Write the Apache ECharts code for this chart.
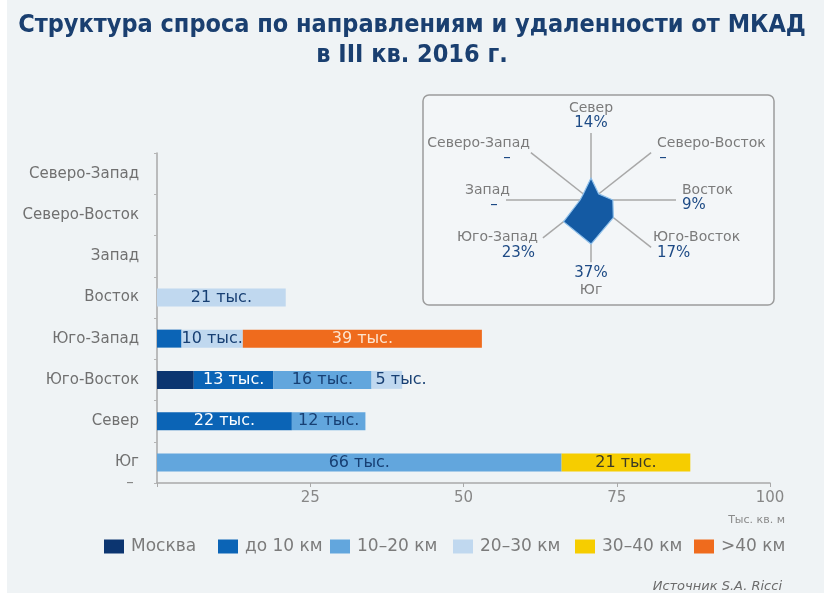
<!DOCTYPE html>
<html>
<head>
<meta charset="utf-8">
<script src="https://cdn.jsdelivr.net/npm/echarts@6/dist/echarts.min.js"></script>
<style>
  html, body { margin: 0; padding: 0; background: #ffffff; }
  #chart { width: 824px; height: 593px; }
</style>
</head>
<body>
<div id="chart"></div>
<script>
// Directions along the vertical axis (bottom to top)
const directions = ['Юг', 'Север', 'Юго-Восток', 'Юго-Запад', 'Восток', 'Запад', 'Северо-Восток', 'Северо-Запад'];

// Distance bands from the ring road
const bandNames = ['Москва', 'до 10 км', '10–20 км', '20–30 км', '30–40 км', '>40 км'];

// Demand, thousand sq. m, per direction (same order as directions)
const moscow   = [null, null, 6,    null, null, null, null, null];
const upTo10   = [null, 22,   13,   4,    null, null, null, null];
const km10to20 = [66,   12,   16,   null, null, null, null, null];
const km20to30 = [null, null, 5,    10,   21,   null, null, null];
const km30to40 = [21,   null, null, null, null, null, null, null];
const over40   = [null, null, null, 39,   null, null, null, null];

// Horizontal scale
const xMin = 0;
const xMax = 100;
const xStep = 25;

// Inset: share of demand by compass direction, % (null = no demand)
const compassNames = ['Север', 'Северо-Восток', 'Восток', 'Юго-Восток', 'Юг', 'Юго-Запад', 'Запад', 'Северо-Запад'];
const compassShare = [14, null, 9, 17, 37, 23, null, null];
const compassMin = -9;   // radial scale start (keeps a small core at zero)
const compassMax = 61;

// ---- styling ----
const bandValues = [moscow, upTo10, km10to20, km20to30, km30to40, over40];
const bandColors = ['#0c3570', '#0b64b6', '#62a6dd', '#c0d8ef', '#f6cd00', '#ef6b1d'];
const bandLabelColors = ['#ffffff', '#ffffff', '#173f73', '#173f73', '#3b3a26', '#fde4cf'];
const FONT = "'DejaVu Sans', sans-serif";
const TITLE_FONT = "'Liberation Sans Narrow', 'DejaVu Sans Condensed', sans-serif";
const legendLefts = [104, 218, 330, 453, 575, 694];

// label placement around the inset (pixel offsets from its centre)
const compassLayout = [
  { name: [0, -92],  val: [0, -77],  align: 'center' },
  { name: [66, -57], val: [72, -42], align: 'left' },
  { name: [91, -10], val: [91, 5],   align: 'left' },
  { name: [62, 37],  val: [66, 53],  align: 'left' },
  { name: [0, 90],   val: [0, 73],   align: 'center' },
  { name: [-53, 37], val: [-56, 53], align: 'right' },
  { name: [-81, -10], val: [-97, 5], align: 'right' },
  { name: [-61, -57], val: [-84, -42], align: 'right' }
];
const spokeLength = [1, 1, 1, 1, 0.93, 0.8, 1, 1];

const chart = echarts.init(document.getElementById('chart'), null, { renderer: 'canvas' });

function unit(k) {
  const a = k * Math.PI / 4;
  return [Math.sin(a), Math.cos(a)];
}
function radial(v) {
  return ((v == null ? 0 : v) - compassMin) / (compassMax - compassMin);
}

const barSeries = bandNames.map((name, si) => ({
  type: 'bar',
  name: name,
  stack: 'total',
  barWidth: 18,
  xAxisIndex: 0,
  yAxisIndex: 0,
  itemStyle: { color: bandColors[si] },
  label: {
    show: si !== 0,
    position: 'inside',
    color: bandLabelColors[si],
    fontFamily: FONT,
    fontSize: 16,
    formatter: p => (p.value >= 5 ? p.value + ' тыс.' : '')
  },
  data: bandValues[si].map(v => {
    if (v == null) return null;
    if (v < 8) return { value: v, label: { position: 'insideLeft', distance: 4 } };
    return v;
  })
}));

const compassSeries = {
  type: 'custom',
  coordinateSystem: 'cartesian2d',
  xAxisIndex: 1,
  yAxisIndex: 1,
  silent: true,
  data: compassShare.map((v, i) => [i, v == null ? 0 : v]),
  renderItem: function (params, api) {
    const k = params.dataIndex;
    const c = api.coord([0, 0]);
    const u = unit(k);
    const end = api.coord([u[0] * spokeLength[k], u[1] * spokeLength[k]]);
    const lay = compassLayout[k];
    const share = compassShare[k];
    const children = [
      {
        type: 'line',
        z2: 1,
        shape: { x1: c[0], y1: c[1], x2: end[0], y2: end[1] },
        style: { stroke: '#a8a8a8', lineWidth: 1.5 }
      },
      {
        type: 'text',
        z2: 20,
        x: c[0] + lay.name[0],
        y: c[1] + lay.name[1],
        style: {
          text: compassNames[k], fill: '#7b7b7b', fontSize: 14, fontFamily: FONT,
          align: lay.align, verticalAlign: 'middle'
        }
      },
      {
        type: 'text',
        z2: 20,
        x: c[0] + lay.val[0],
        y: c[1] + lay.val[1],
        style: {
          text: share == null ? '–' : share + '%', fill: '#1d4a85', fontSize: 15, fontFamily: FONT,
          align: share == null ? 'center' : lay.align, verticalAlign: 'middle'
        }
      }
    ];
    if (k === 0) {
      const pts = compassShare.map((v, i) => {
        const d = unit(i);
        const r = radial(v);
        return api.coord([d[0] * r, d[1] * r]);
      });
      children.push({
        type: 'polygon',
        z2: 10,
        shape: { points: pts },
        style: { fill: '#145aa3', stroke: '#8fc0ea', lineWidth: 1.2, lineJoin: 'round' }
      });
    }
    return { type: 'group', children: children };
  }
};

const option = {
  backgroundColor: '#eff3f5',
  animation: false,
  title: [
    {
      text: 'Структура спроса по направлениям и удаленности от МКАД',
      left: 'center', top: 8,
      textStyle: { fontFamily: TITLE_FONT, fontWeight: 'bold', fontSize: 25, color: '#1a3f70' }
    },
    {
      text: 'в III кв. 2016 г.',
      left: 'center', top: 38,
      textStyle: { fontFamily: TITLE_FONT, fontWeight: 'bold', fontSize: 25, color: '#1a3f70' }
    }
  ],
  legend: bandNames.map((name, i) => ({
    data: [name],
    left: legendLefts[i],
    top: 538,
    padding: 0,
    itemWidth: 20,
    itemHeight: 14,
    itemGap: 0,
    selectedMode: false,
    icon: 'rect',
    textStyle: { fontFamily: FONT, fontSize: 17, color: '#7b7b7b', padding: [0, 0, 0, 2] }
  })),
  grid: [
    { left: 157, right: 54, top: 153, bottom: 110, outerBoundsMode: 'none' },
    { left: 506, top: 133, width: 170, height: 134, outerBoundsMode: 'none' }
  ],
  xAxis: [
    {
      gridIndex: 0,
      type: 'value',
      min: xMin, max: xMax, interval: xStep,
      splitLine: { show: false },
      axisLine: { show: true, lineStyle: { color: '#a9a9a9', width: 1.5 } },
      axisTick: { show: true, length: 4, lineStyle: { color: '#a9a9a9' } },
      axisLabel: {
        color: '#878787', fontFamily: FONT, fontSize: 15, margin: 8,
        formatter: v => (v === xMin ? '' : String(v))
      }
    },
    { gridIndex: 1, type: 'value', min: -1, max: 1, show: false }
  ],
  yAxis: [
    {
      gridIndex: 0,
      type: 'category',
      data: directions,
      axisLine: { show: true, lineStyle: { color: '#a9a9a9', width: 1.5 } },
      axisTick: { show: true, length: 3, lineStyle: { color: '#b5b5b5' } },
      axisLabel: { color: '#707070', fontFamily: FONT, fontSize: 15, margin: 18 }
    },
    { gridIndex: 1, type: 'value', min: -1, max: 1, show: false }
  ],
  graphic: [
    { type: 'rect', z: -1, silent: true, shape: { x: 0, y: 0, width: 7, height: 593 }, style: { fill: '#ffffff' } },
    {
      type: 'rect', z: 0, silent: true,
      shape: { x: 423, y: 95, width: 351, height: 210, r: 6 },
      style: { fill: '#f3f6f8', stroke: '#9c9c9c', lineWidth: 1.5 }
    },
    {
      type: 'text', silent: true, x: 130, y: 483,
      style: { text: '–', fill: '#888888', fontFamily: FONT, fontSize: 15, align: 'center', verticalAlign: 'middle' }
    },
    {
      type: 'text', silent: true, x: 785, y: 520,
      style: { text: 'Тыс. кв. м', fill: '#8a8a8a', fontFamily: FONT, fontSize: 11, align: 'right', verticalAlign: 'middle' }
    },
    {
      type: 'text', silent: true, x: 782, y: 587,
      style: { text: 'Источник S.A. Ricci', fill: '#6b6b6b', fontFamily: FONT, fontStyle: 'italic', fontSize: 13, align: 'right', verticalAlign: 'middle' }
    }
  ],
  series: barSeries.concat([compassSeries])
};

chart.setOption(option);
</script>
</body>
</html>
